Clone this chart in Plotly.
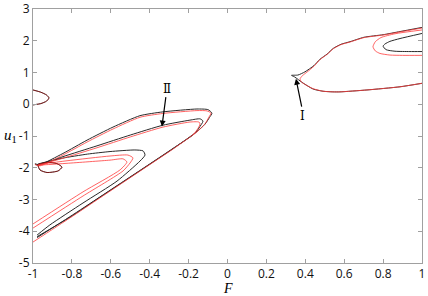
import plotly.graph_objects as go

# ---------------- data ----------------
# left structure, black curves
blk_outer_F = [-0.979, -0.81, -0.656, -0.434, -0.28, -0.157, -0.116, -0.093, -0.080, -0.100, -0.157, -0.332, -0.450, -0.589, -0.722, -0.846, -0.964, -0.99]
blk_outer_u = [-4.17, -3.56, -2.93, -2.03, -1.40, -0.86, -0.63, -0.42, -0.28, -0.17, -0.15, -0.24, -0.36, -0.72, -1.13, -1.55, -1.90, -1.88]

blk_mid_F = [-0.99, -0.975, -0.846, -0.671, -0.50, -0.332, -0.193, -0.141, -0.126, -0.147, -0.17, -0.28, -0.434, -0.656, -0.81, -0.979]
blk_mid_u = [-1.88, -1.92, -1.65, -1.31, -0.97, -0.66, -0.50, -0.46, -0.53, -0.75, -0.93, -1.39, -2.02, -2.92, -3.54, -4.20]

blk_in_F = [-0.974, -0.85, -0.72, -0.604, -0.476, -0.434, -0.424, -0.45, -0.568, -0.743, -0.913, -0.979]
blk_in_u = [-1.88, -1.70, -1.57, -1.49, -1.44, -1.47, -1.60, -1.79, -2.42, -3.11, -3.80, -4.12]

# left structure, red curves
red_outer_F = [-1.0, -0.81, -0.656, -0.434, -0.28, -0.157, -0.116, -0.095, -0.085, -0.105, -0.157, -0.332, -0.45, -0.589, -0.722, -0.846, -0.964, -0.99]
red_outer_u = [-4.34, -3.58, -2.95, -2.04, -1.41, -0.87, -0.62, -0.40, -0.28, -0.21, -0.20, -0.29, -0.41, -0.78, -1.19, -1.60, -1.94, -1.90]

red_mid_F = [-0.975, -0.846, -0.671, -0.50, -0.332, -0.193, -0.147, -0.141, -0.157, -0.18]
red_mid_u = [-1.93, -1.70, -1.37, -1.03, -0.72, -0.56, -0.56, -0.62, -0.81, -0.98]

red_in1_F = [-0.974, -0.825, -0.604, -0.512, -0.486, -0.501, -0.537, -0.743, -1.0]
red_in1_u = [-1.90, -1.78, -1.63, -1.60, -1.69, -1.85, -2.10, -2.89, -3.90]

red_in2_F = [-0.974, -0.825, -0.604, -0.537, -0.517, -0.553, -0.743, -1.0]
red_in2_u = [-1.92, -1.86, -1.76, -1.72, -1.82, -2.07, -2.76, -3.77]

# small closed loop near F = -0.9
loop_F = [-0.974, -0.928, -0.877, -0.851, -0.871, -0.928, -0.964, -0.974]
loop_u = [-1.91, -1.83, -1.87, -1.98, -2.10, -2.15, -2.07, -1.91]

# small arc at the left edge near u = 0
edge_F = [-1.0, -0.96, -0.93, -0.918, -0.93, -0.96, -1.0]
edge_u = [0.45, 0.38, 0.29, 0.20, 0.10, 0.02, -0.02]

# right structure
rblk_outer_F = [1.0, 0.887, 0.80, 0.702, 0.630, 0.584, 0.544, 0.512, 0.476, 0.445, 0.398, 0.362, 0.329, 0.345, 0.388, 0.440, 0.491, 0.542, 0.578, 0.717, 0.887, 1.0]
rblk_outer_u = [2.42, 2.29, 2.19, 2.11, 1.97, 1.89, 1.76, 1.58, 1.42, 1.22, 1.02, 0.92, 0.91, 0.86, 0.67, 0.48, 0.41, 0.39, 0.39, 0.45, 0.55, 0.66]

rred_outer_F = [1.0, 0.887, 0.80, 0.702, 0.630, 0.584, 0.544, 0.512, 0.476, 0.445, 0.41, 0.385, 0.373, 0.38, 0.40, 0.44, 0.491, 0.542, 0.578, 0.717, 0.887, 1.0]
rred_outer_u = [2.40, 2.28, 2.18, 2.10, 1.96, 1.88, 1.75, 1.57, 1.41, 1.20, 1.02, 0.90, 0.80, 0.70, 0.62, 0.49, 0.41, 0.39, 0.39, 0.45, 0.55, 0.66]

rblk_in_F = [1.0, 0.887, 0.835, 0.810, 0.80, 0.815, 0.861, 0.938, 1.0]
rblk_in_u = [2.23, 2.07, 1.98, 1.90, 1.83, 1.72, 1.67, 1.66, 1.66]

rred_in_F = [1.0, 0.861, 0.789, 0.760, 0.748, 0.760, 0.784, 0.835, 0.90, 1.0]
rred_in_u = [2.34, 2.22, 2.10, 1.97, 1.81, 1.68, 1.60, 1.55, 1.54, 1.54]

# annotations: label, text position, arrow tail, arrow head
label_II = "Ⅱ"
II_text = (-0.311, 0.48)
II_tail = (-0.316, 0.27)
II_head = (-0.337, -0.70)
label_I = "Ⅰ"
I_text = (0.388, -0.36)
I_tail = (0.383, -0.12)
I_head = (0.352, 0.80)

x_ticks = [-1, -0.8, -0.6, -0.4, -0.2, 0, 0.2, 0.4, 0.6, 0.8, 1]
x_ticklabels = ["-1", "-0.8", "-0.6", "-0.4", "-0.2", "0", "0.2", "0.4", "0.6", "0.8", "1"]
y_ticks = [-5, -4, -3, -2, -1, 0, 1, 2, 3]
y_ticklabels = ["-5", "-4", "-3", "-2", "-1", "0", "1", "2", "3"]

# ---------------- figure ----------------
BLACK = "#2a2a2a"
RED = "rgba(255,60,60,0.8)"
fig = go.Figure()

def add(F, u, color, width):
    fig.add_trace(go.Scatter(x=F, y=u, mode="lines", line=dict(color=color, width=width, shape="spline", smoothing=0.6),
                             hoverinfo="skip", showlegend=False))

for F, u in [(blk_outer_F, blk_outer_u), (blk_mid_F, blk_mid_u), (blk_in_F, blk_in_u),
             (loop_F, loop_u), (edge_F, edge_u),
             (rblk_outer_F, rblk_outer_u), (rblk_in_F, rblk_in_u)]:
    add(F, u, BLACK, 1.0)

for F, u in [(red_outer_F, red_outer_u), (red_mid_F, red_mid_u), (red_in1_F, red_in1_u), (red_in2_F, red_in2_u),
             (rred_outer_F, rred_outer_u), (rred_in_F, rred_in_u)]:
    add(F, u, RED, 1.0)

for F, u in [(loop_F, loop_u), (edge_F, edge_u)]:
    add(F, u, "rgba(190,0,0,0.5)", 1.0)

ann_font = dict(family="DejaVu Serif", size=12, color="black")
for lab, t, tail, head in [(label_II, II_text, II_tail, II_head), (label_I, I_text, I_tail, I_head)]:
    fig.add_annotation(x=head[0], y=head[1], ax=tail[0], ay=tail[1], xref="x", yref="y", axref="x", ayref="y",
                       showarrow=True, arrowhead=2, arrowsize=1, arrowwidth=1.2, arrowcolor="black", text="")
    fig.add_annotation(x=t[0], y=t[1], xref="x", yref="y", text=lab, showarrow=False, font=ann_font)

fig.add_annotation(x=0, y=-0.102, xref="x", yref="paper", text="<i>F</i>", showarrow=False,
                   font=dict(family="Liberation Serif", size=14, color="black"), yanchor="middle")
fig.add_annotation(x=-0.057, y=-1, xref="paper", yref="y", text="<i>u</i><sub>1</sub>", showarrow=False,
                   font=dict(family="Liberation Serif", size=15, color="black"), xanchor="center")

axis_common = dict(showgrid=False, zeroline=False, showline=True, linecolor="#a0a0a0", linewidth=1,
                   mirror="ticks", ticks="inside", ticklen=4, tickcolor="#a0a0a0",
                   tickfont=dict(family="Open Sans", size=12, color="#111"))
fig.update_xaxes(range=[-1, 1], tickvals=x_ticks, ticktext=x_ticklabels, **axis_common)
fig.update_yaxes(range=[-5, 3], tickvals=y_ticks, ticktext=y_ticklabels, **axis_common)

fig.update_layout(width=428, height=296, margin=dict(l=33, r=6, t=9, b=33, autoexpand=False),
                  plot_bgcolor="white", paper_bgcolor="white", hovermode=False)

# remove the default page margin so the figure sits at the window's corner
fig.write_html("out.html", config={"displayModeBar": False, "staticPlot": True},
               post_script="document.body.style.margin='0';document.body.style.overflow='hidden';")
